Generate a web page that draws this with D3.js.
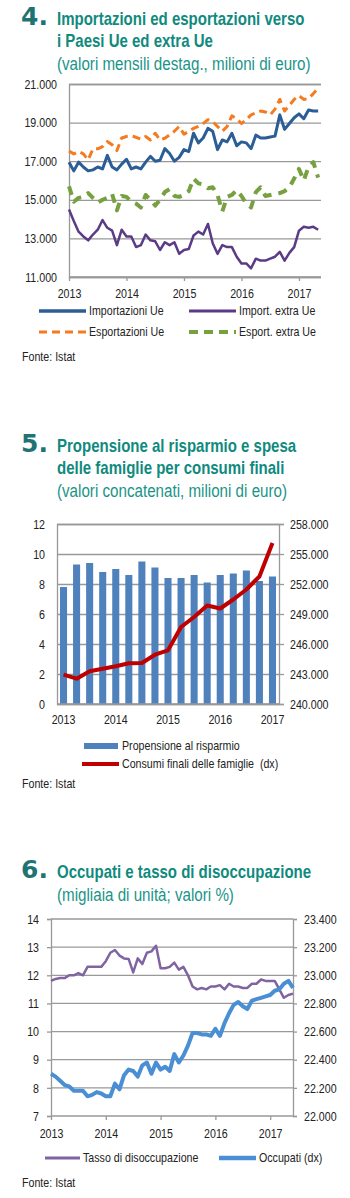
<!DOCTYPE html>
<html>
<head>
<meta charset="utf-8">
<script src="https://cdn.jsdelivr.net/npm/d3@7"></script>
<style>
  body { margin: 0; background: #fff; }
  svg text { font-family: "Liberation Sans", Arial, sans-serif; }
  .axis path, .axis line { stroke: #999; stroke-width: 1.3; }
  .axis text { font-size: 13px; fill: #222; font-family: "Liberation Sans", Arial, sans-serif; }
  .leg { font-size: 13px; fill: #222; white-space: pre; }
</style>
</head>
<body>
<script>
// ---- data ----
var years = ["2013", "2014", "2015", "2016", "2017"];
var yearMonths = [0, 12, 24, 36, 48];   // month index of january of each year

// chart 4: monthly values, Jan 2013 - May 2017
var importUe = [16950,16500,16950,16700,16500,16550,16700,16600,17300,16700,16550,16850,17100,16600,16700,16600,16950,17250,17000,17050,17650,17400,17000,
  17200,17600,17500,18450,17950,18200,18700,18550,17600,18100,18000,18450,17800,18000,17950,17650,18350,18200,18200,18250,18300,19400,18650,18950,19250,19450,19200,19650,19600,19600];
var importExtraUe = [14500,13900,13350,13100,12900,13200,13450,13950,13550,13400,12650,13450,13100,13100,12550,12650,13200,12900,12850,12400,12800,12650,12800,
  12200,12400,12450,13150,13350,13200,13750,12750,12200,12650,12550,12550,12050,11700,11700,11450,11950,11850,11850,11950,12050,12300,11850,12250,12550,13400,13600,13550,13600,13450];
var exportUe = [17530,17380,17500,17380,17070,17640,17640,17760,18020,17850,17550,18200,18280,18310,18240,18140,18280,18100,18450,18100,18190,18370,18550,
  18800,18400,18550,18700,18800,18950,19150,19050,18800,18550,18800,19350,19200,18950,19150,19400,19500,19600,19550,19400,19700,20200,19600,19900,20200,20400,20200,20250,20500,20800];
var exportExtraUe = [15700,14900,15100,15150,15350,15100,14850,15000,15100,15300,14450,15200,15150,14900,14800,14600,15250,15000,14700,15000,15400,15550,15200,
  15150,15250,15450,16100,15850,15800,15600,15650,15250,14400,15150,15250,15500,15200,14800,14600,15400,15650,15200,15250,15300,15350,15450,15650,16100,16600,16000,16700,16950,16150];
var ticks4 = [11000, 13000, 15000, 17000, 19000, 21000];

// chart 5: quarterly values, 2013 T1 - 2017 T1
var quarters = ["2013T1","2013T2","2013T3","2013T4","2014T1","2014T2","2014T3","2014T4","2015T1","2015T2","2015T3","2015T4","2016T1","2016T2","2016T3","2016T4","2017T1"];
var propensione = [7.8, 9.3, 9.4, 8.8, 9.0, 8.6, 9.5, 9.1, 8.4, 8.4, 8.6, 8.1, 8.6, 8.7, 8.9, 8.2, 8.5];
var consumi = [242930,242530,243270,243530,243770,244070,244100,244930,245370,247700,248700,249850,249550,250450,251450,252750,256100];
var ticks5L = [0, 2, 4, 6, 8, 10, 12];
var ticks5R = [240000, 243000, 246000, 249000, 252000, 255000, 258000];

// chart 6: monthly values, Jan 2013 - Jun 2017
var tasso = [11.8,11.87,11.9,11.9,12.0,12.0,12.08,12.0,12.3,12.3,12.3,12.3,12.5,12.8,12.9,12.7,12.6,12.58,12.1,12.6,12.4,12.8,12.85,13.05,12.25,12.25,12.3,12.45,
  12.2,12.3,12.0,11.6,11.5,11.55,11.5,11.6,11.6,11.65,11.5,11.7,11.6,11.6,11.55,11.55,11.7,11.7,11.85,11.8,11.8,11.8,11.5,11.2,11.3,11.35];
var occupati = [22300,22280,22250,22220,22210,22180,22180,22180,22140,22150,22170,22160,22140,22140,22230,22190,22290,22330,22320,22280,22360,22380,22300,22380,22330,22350,22320,22440,
  22380,22430,22500,22590,22590,22580,22580,22570,22620,22570,22660,22730,22790,22810,22780,22760,22820,22830,22840,22850,22860,22890,22900,22940,22960,22910];
var ticks6L = [7, 8, 9, 10, 11, 12, 13, 14];
var ticks6R = [22000, 22200, 22400, 22600, 22800, 23000, 23200, 23400];

// italian number format: 21.000
var it = d3.formatLocale({ decimal: ",", thousands: ".", grouping: [3], currency: ["", " €"] });
var fmt = it.format(",.0f");

var svg = d3.select("body").append("svg")
    .attr("width", 350)
    .attr("height", 1198);

svg.append("rect").attr("width", 350).attr("height", 1198).attr("fill", "#fff");

// title block: big number, bold lines, regular subtitle
function title(y0, num, lines, sub) {
  svg.append("text")
      .attr("class", "num")
      .attr("x", 21).attr("y", y0)
      .style("font-family", "DejaVu Sans")
      .style("font-weight", "bold")
      .style("font-size", "25px")
      .attr("fill", "#1f7373")
      .text(num);
  lines.forEach(function(t, i) {
    svg.append("text")
        .attr("x", 57).attr("y", y0 + i * 22.5)
        .style("font-weight", "bold")
        .style("font-size", "18.3px")
        .attr("fill", "#108a7e")
        .text(t);
  });
  svg.append("text")
      .attr("x", 57).attr("y", y0 + lines.length * 22.5 + 0.5)
      .style("font-size", "18.5px")
      .attr("fill", "#1a9488")
      .text(sub);
}

function fonte(y) {
  svg.append("text").attr("class", "leg").attr("x", 22).attr("y", y).text("Fonte: Istat");
}

function legendItem(x, y, w, color, width, dash, label, tx) {
  svg.append("line")
      .attr("x1", x).attr("x2", x + w)
      .attr("y1", y).attr("y2", y)
      .attr("stroke", color)
      .attr("stroke-width", width)
      .attr("stroke-dasharray", dash);
  svg.append("text").attr("class", "leg")
      .attr("x", tx || x + w + 3).attr("y", y + 4.5)
      .text(label);
}

function styleAxis(g) {
  g.attr("class", "axis");
  g.selectAll(".tick line").attr("stroke", "#999");
}

// ================= chart 4 =================
title(25, "4.", ["Importazioni ed esportazioni verso", "i Paesi Ue ed extra Ue"], "(valori mensili destag., milioni di euro)");

var x4 = d3.scaleLinear().domain([0, 52.6]).range([69, 321]);
var y4 = d3.scaleLinear().domain([11000, 21000]).range([277, 84]);

svg.append("g")
    .attr("transform", "translate(69,0)")
    .call(d3.axisLeft(y4).tickValues(ticks4).tickFormat(fmt).tickSize(-(321 - 69)).tickPadding(12))
    .call(styleAxis);

svg.append("g")
    .attr("transform", "translate(0,277)")
    .call(d3.axisBottom(x4).tickValues(yearMonths).tickFormat(function(d, i) { return years[i]; }).tickSize(4).tickPadding(8))
    .call(styleAxis)
    .select(".domain").attr("d", "M69,0H321");

var line4 = d3.line()
    .x(function(d, i) { return x4(i); })
    .y(function(d) { return y4(d); });

var series4 = [
  [importUe, "#2c5d96", 3, null],
  [importExtraUe, "#5b3b85", 2.5, null],
  [exportUe, "#f47b20", 3, "8,5"],
  [exportExtraUe, "#77a040", 4, "9,7"]
];
series4.forEach(function(s) {
  svg.append("path")
      .attr("d", line4(s[0]))
      .attr("fill", "none")
      .attr("stroke", s[1])
      .attr("stroke-width", s[2])
      .attr("stroke-dasharray", s[3])
      .attr("stroke-linejoin", "round");
});

legendItem(39, 311, 47, "#2c5d96", 3.5, null, "Importazioni Ue");
legendItem(189, 311, 47, "#5b3b85", 3, null, "Import. extra Ue");
legendItem(39, 332, 47, "#f47b20", 3, "8,5", "Esportazioni Ue");
legendItem(189, 332, 47, "#77a040", 4, "9,6", "Esport. extra Ue");
fonte(361);

// ================= chart 5 =================
title(452, "5.", ["Propensione al risparmio e spesa", "delle famiglie per consumi finali"], "(valori concatenati, milioni di euro)");

var x5 = d3.scaleBand().domain(quarters).range([57, 279]).paddingInner(0.46).paddingOuter(0.23);
var y5L = d3.scaleLinear().domain([0, 12]).range([704, 524]);
var y5R = d3.scaleLinear().domain([240000, 258000]).range([704, 524]);

svg.append("g")
    .attr("transform", "translate(57,0)")
    .call(d3.axisLeft(y5L).tickValues(ticks5L).tickFormat(d3.format("d")).tickSize(-(279 - 57)).tickPadding(12))
    .call(styleAxis);

svg.append("g")
    .attr("transform", "translate(279,0)")
    .call(d3.axisRight(y5R).tickValues(ticks5R).tickFormat(fmt).tickSize(5).tickPadding(6))
    .call(styleAxis);

svg.selectAll("rect.bar")
    .data(propensione)
    .enter()
    .append("rect")
    .attr("class", "bar")
    .attr("x", function(d, i) { return x5(quarters[i]); })
    .attr("width", x5.bandwidth())
    .attr("y", function(d) { return y5L(d); })
    .attr("height", function(d) { return 704 - y5L(d); })
    .attr("fill", "#4f81bd");

svg.append("g")
    .attr("transform", "translate(0,704)")
    .call(d3.axisBottom(x5)
      .tickValues(quarters.filter(function(q) { return q.slice(4) === "T1"; }))
      .tickFormat(function(q) { return q.slice(0, 4); })
      .tickSize(0).tickPadding(11))
    .call(styleAxis)
    .select(".domain").attr("d", "M57,0H279");

svg.append("path")
    .attr("d", d3.line()
      .x(function(d, i) { return x5(quarters[i]) + x5.bandwidth() / 2; })
      .y(function(d) { return y5R(d); })(consumi))
    .attr("fill", "none")
    .attr("stroke", "#c00000")
    .attr("stroke-width", 4)
    .attr("stroke-linejoin", "round");

svg.append("rect").attr("x", 84).attr("y", 743).attr("width", 34).attr("height", 6).attr("fill", "#4f81bd");
svg.append("text").attr("class", "leg").attr("x", 122).attr("y", 750).text("Propensione al risparmio");
legendItem(82, 764, 37, "#c00000", 4, null, "Consumi finali delle famiglie  (dx)", 122);
fonte(788);

// ================= chart 6 =================
title(878, "6.", ["Occupati e tasso di disoccupazione"], "(migliaia di unità; valori %)");

var x6 = d3.scaleLinear().domain([0, 53]).range([51, 293]);
var y6L = d3.scaleLinear().domain([7, 14]).range([1116, 919]);
var y6R = d3.scaleLinear().domain([22000, 23400]).range([1116, 919]);

// gridlines
svg.append("g")
    .selectAll("line")
    .data(ticks6L.slice(1))
    .enter()
    .append("line")
    .attr("x1", 51).attr("x2", 293)
    .attr("y1", function(d) { return y6L(d); })
    .attr("y2", function(d) { return y6L(d); })
    .attr("stroke", "#999")
    .attr("stroke-width", 1.3);

svg.append("g")
    .attr("transform", "translate(51,0)")
    .call(d3.axisLeft(y6L).tickValues(ticks6L).tickFormat(d3.format("d")).tickSize(4).tickPadding(8))
    .call(styleAxis);

svg.append("g")
    .attr("transform", "translate(293,0)")
    .call(d3.axisRight(y6R).tickValues(ticks6R).tickFormat(fmt).tickSize(4).tickPadding(7))
    .call(styleAxis);

svg.append("g")
    .attr("transform", "translate(0,1116)")
    .call(d3.axisBottom(x6).tickValues(yearMonths).tickFormat(function(d, i) { return years[i]; }).tickSize(4).tickPadding(9))
    .call(styleAxis)
    .select(".domain").attr("d", "M51,0H293");

svg.append("path")
    .attr("d", d3.line()
      .x(function(d, i) { return x6(i); })
      .y(function(d) { return y6L(d); })(tasso))
    .attr("fill", "none")
    .attr("stroke", "#8064a2")
    .attr("stroke-width", 2.5)
    .attr("stroke-linejoin", "round");

svg.append("path")
    .attr("d", d3.line()
      .x(function(d, i) { return x6(i); })
      .y(function(d) { return y6R(d); })(occupati))
    .attr("fill", "none")
    .attr("stroke", "#4a8fd4")
    .attr("stroke-width", 4)
    .attr("stroke-linejoin", "round");

legendItem(45, 1158, 35, "#8064a2", 3, null, "Tasso di disoccupazione");
legendItem(219, 1158, 37, "#4a8fd4", 4.5, null, "Occupati (dx)");
fonte(1187);

// no narrow font installed: squeeze each text horizontally around its anchor, like Arial Narrow
svg.selectAll("text").filter(function() { return this.getAttribute("class") !== "num"; })
    .each(function() {
      var x = +this.getAttribute("x") || 0;
      d3.select(this).attr("transform", "matrix(0.82,0,0,1," + (x * 0.18) + ",0)");
    });
</script>
</body>
</html>
